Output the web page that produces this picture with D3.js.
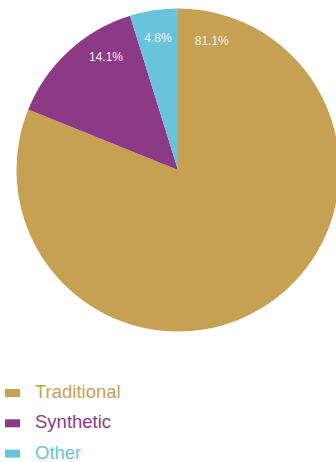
<!DOCTYPE html>
<html><head><meta charset="utf-8">
<script src="https://cdn.jsdelivr.net/npm/d3@7"></script>
<style>html,body{margin:0;padding:0;background:#fff;overflow:hidden}</style>
</head><body>
<script>
const categories = ["Traditional", "Synthetic", "Other"];
const values = [81.1, 14.1, 4.8];
const colors = ["#c7a152", "#8c3a86", "#68c4dd"];
const labels = ["81.1%", "14.1%", "4.8%"];
// relative position of each label inside its slice (0 = start angle, 1 = end angle)
const labelFrac = [0.05, 0.70, 0.5];

const W = 336, H = 462;
const cx = 178, cy = 170, R = 161.5;
const svg = d3.select("body").append("svg").attr("width", W).attr("height", H);

const pie = d3.pie().sort(null).value(d => d)(values);
const arc = d3.arc().innerRadius(0).outerRadius(R);
const g = svg.append("g").attr("transform", `translate(${cx},${cy})`);
g.selectAll("path").data(pie).join("path")
  .attr("d", arc).attr("fill", (d, i) => colors[i]);

g.selectAll("text").data(pie).join("text")
  .attr("transform", (d, i) => {
    const a = d.startAngle + (d.endAngle - d.startAngle) * labelFrac[i];
    const p = d3.pointRadial(a, 134);
    return `translate(${p[0]},${p[1]})`;
  })
  .attr("text-anchor", "middle").attr("dy", "0.35em")
  .attr("font-family", "Liberation Sans, Arial, sans-serif")
  .attr("font-size", 12).attr("fill", "#f4f1ea")
  .text((d, i) => labels[i]);

const y = d3.scalePoint().domain(categories).range([393, 453.6]);
const leg = svg.append("g");
leg.selectAll("rect").data(categories).join("rect")
  .attr("x", 5).attr("y", d => y(d) - 4).attr("width", 15).attr("height", 8)
  .attr("fill", (d, i) => colors[i]);
leg.selectAll("text").data(categories).join("text")
  .attr("x", 35).attr("y", d => y(d) + 5)
  .attr("font-family", "Liberation Sans, Arial, sans-serif")
  .attr("font-size", 18.5).attr("fill", (d, i) => colors[i])
  .text(d => d);
</script>
</body></html>
